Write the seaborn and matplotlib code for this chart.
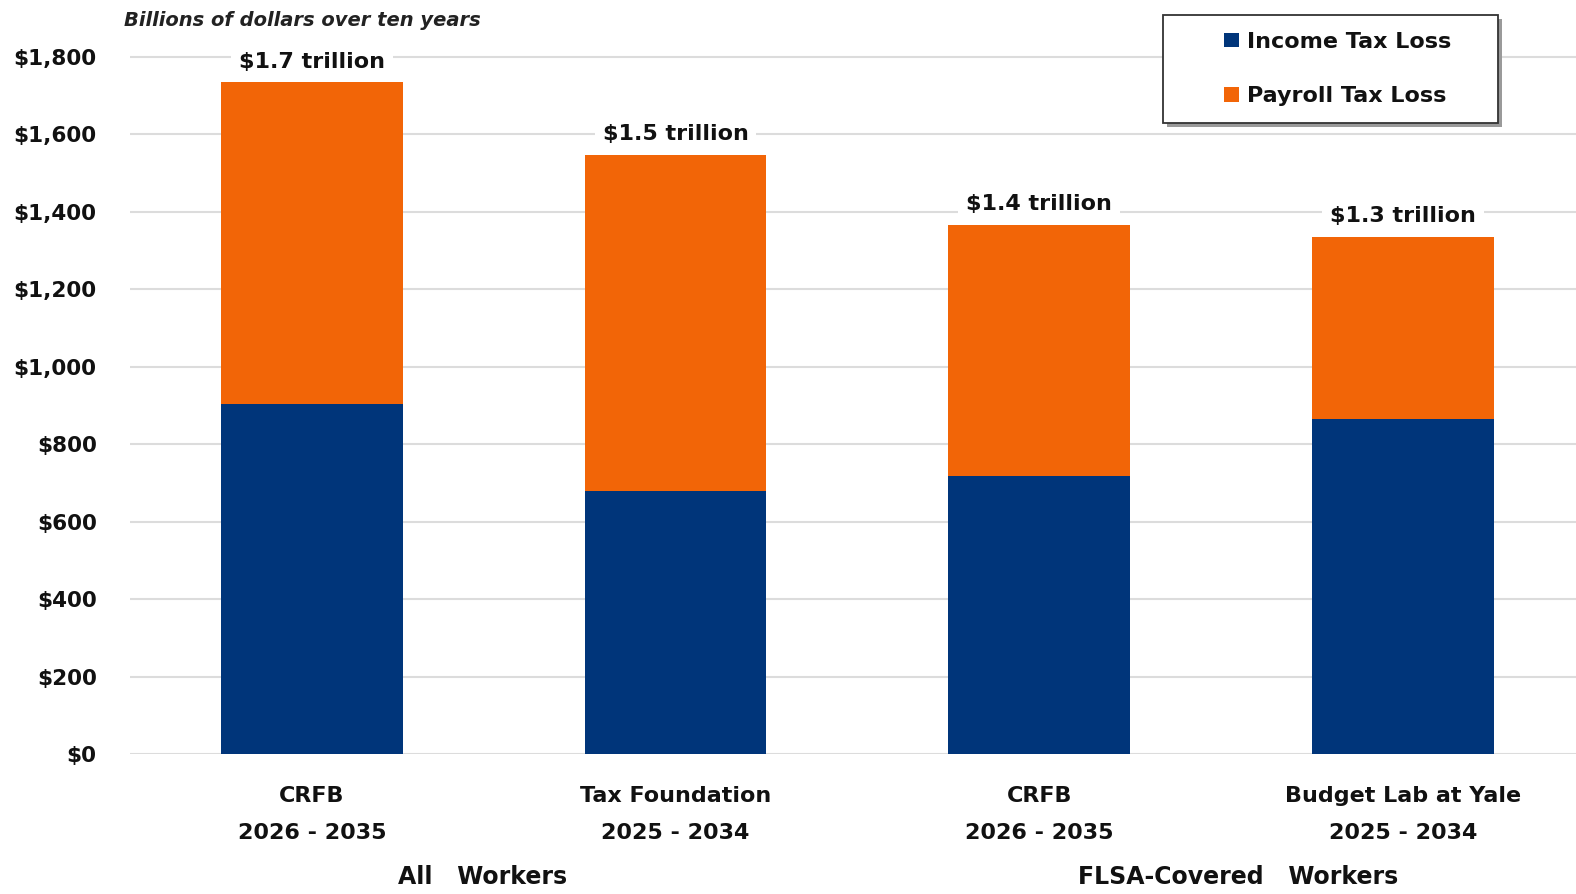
import matplotlib
matplotlib.use("Agg")
import matplotlib.pyplot as plt
from matplotlib.patches import Rectangle
import numpy as np
import pandas as pd
import seaborn as sns

# estimates, billions of dollars over ten years
studies = ["CRFB all", "Tax Foundation", "CRFB FLSA", "Budget Lab"]
tick_labels = ["CRFB\n2026 - 2035", "Tax Foundation\n2025 - 2034",
               "CRFB\n2026 - 2035", "Budget Lab at Yale\n2025 - 2034"]
income_loss = [905, 680, 718, 866]
payroll_loss = [829, 868, 649, 470]
total_labels = ["$1.7 trillion", "$1.5 trillion", "$1.4 trillion", "$1.3 trillion"]
groups = ["All   Workers", "FLSA-Covered   Workers"]
y_ticks = [0, 200, 400, 600, 800, 1000, 1200, 1400, 1600, 1800]

navy = "#00357a"
orange = "#f26507"

df = pd.DataFrame({"study": studies, "income": income_loss, "payroll": payroll_loss})
df["total"] = df["income"] + df["payroll"]

sns.set_theme(style="whitegrid")
plt.rcParams["font.family"] = ["DejaVu Sans"]

fig = plt.figure(figsize=(15.76, 8.94), dpi=100)
ax = fig.add_axes([130 / 1576, 1 - 754 / 894, 1446 / 1576, 754 / 894])

sns.barplot(data=df, x="study", y="total", color=orange, saturation=1, width=0.5,
            label="Payroll Tax Loss", ax=ax, zorder=2, linewidth=0, edgecolor="none")
sns.barplot(data=df, x="study", y="income", color=navy, saturation=1, width=0.5,
            label="Income Tax Loss", ax=ax, zorder=3, linewidth=0, edgecolor="none")
if ax.get_legend() is not None:
    ax.get_legend().remove()

ax.set_xlim(-0.5, 3.476)
ax.set_ylim(0, 1947)
ax.set_xlabel("")
ax.set_ylabel("")
ax.set_yticks(y_ticks)
ax.set_yticklabels([f"${v:,}" for v in y_ticks], fontsize=15.5, fontweight="bold")
ax.set_xticks(range(len(studies)))
ax.set_xticklabels(tick_labels, fontsize=16, fontweight="bold", linespacing=2.05)
ax.tick_params(axis="y", length=0, pad=24, colors="#111111")
ax.tick_params(axis="x", length=0, pad=23, colors="#111111")
ax.grid(axis="y", color="#dcdcdc", linewidth=1.5, zorder=0)
ax.grid(axis="x", visible=False)
for s in ax.spines.values():
    s.set_visible(False)
ax.set_axisbelow(True)

for i, row in df.iterrows():
    ax.annotate(total_labels[i], (i, row["total"]), xytext=(0, 15),
                textcoords="offset points", ha="center", va="center",
                fontsize=16, fontweight="bold", color="#111111", zorder=4,
                bbox=dict(boxstyle="square,pad=0.35", fc="white", ec="none"))

# legend box with a drop shadow
fig.patches.append(Rectangle((1167 / 1576, 1 - 127 / 894), 335 / 1576, 108 / 894,
                             transform=fig.transFigure, fc="#9a9a9a", ec="none", zorder=5))
fig.patches.append(Rectangle((1163 / 1576, 1 - 123 / 894), 335 / 1576, 108 / 894,
                             transform=fig.transFigure, fc="white", ec="#333333",
                             lw=1.3, zorder=6))

handles, labels = ax.get_legend_handles_labels()
order = [labels.index("Income Tax Loss"), labels.index("Payroll Tax Loss")]
leg = fig.legend([handles[k] for k in order], [labels[k] for k in order],
                 loc="center left", bbox_to_anchor=(1213 / 1576, 1 - 69 / 894),
                 bbox_transform=fig.transFigure, prop=dict(size=16, weight="bold"),
                 handlelength=0.65, handleheight=0.65, handletextpad=0.4,
                 labelspacing=1.55, borderpad=0, frameon=False)
leg.set_zorder(7)
for t in leg.get_texts():
    t.set_color("#111111")

fig.text(124 / 1576, 1 - 20 / 894, "Billions of dollars over ten years", fontsize=14,
         fontweight="bold", fontstyle="italic", color="#222222", ha="left", va="center")
fig.text(483 / 1576, 1 - 877 / 894, groups[0], fontsize=17, fontweight="bold",
         color="#111111", ha="center", va="center")
fig.text(1238 / 1576, 1 - 877 / 894, groups[1], fontsize=17, fontweight="bold",
         color="#111111", ha="center", va="center")

fig.savefig("out.png", dpi=100)
